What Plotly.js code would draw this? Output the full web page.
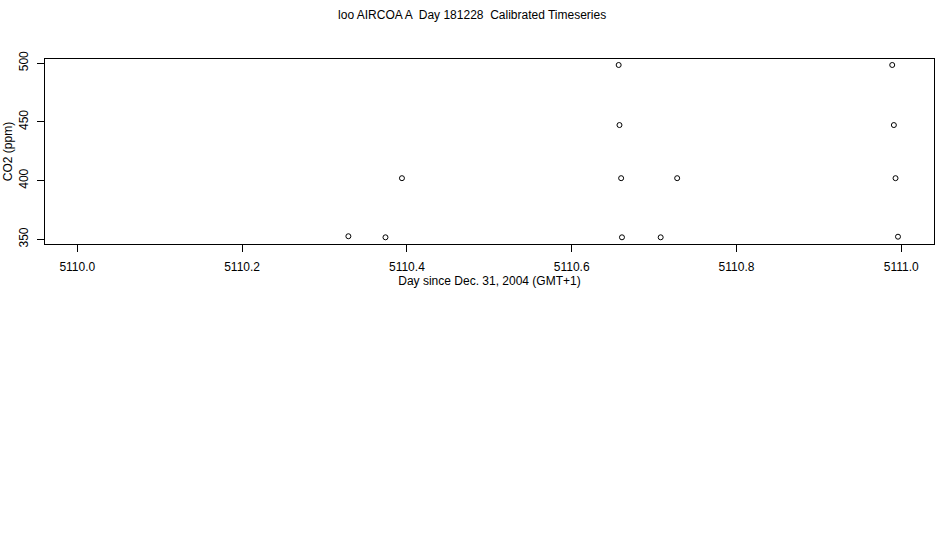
<!DOCTYPE html>
<html>
<head>
<meta charset="utf-8">
<script src="https://cdn.plot.ly/plotly-3.0.1.min.js"></script>
<style>html,body{margin:0;padding:0;background:#fff;}#chart{width:950px;height:550px;}</style>
</head>
<body>
<div id="chart"></div>
<script>
// Data
var dayValues = [5110.329, 5110.374, 5110.394, 5110.657, 5110.658, 5110.660, 5110.661, 5110.708, 5110.728, 5110.989, 5110.991, 5110.993, 5110.996];
var co2Values = [352.6, 351.7, 402.0, 498.3, 447.2, 402.0, 351.7, 351.7, 402.0, 498.3, 447.2, 402.0, 352.2];
var xTickVals = [5110.0, 5110.2, 5110.4, 5110.6, 5110.8, 5111.0];
var xTickText = ["5110.0", "5110.2", "5110.4", "5110.6", "5110.8", "5111.0"];
var yTickVals = [350, 400, 450, 500];
var yTickText = ["350", "400", "450", "500"];
var titleText = "loo AIRCOA A \u00a0Day 181228 \u00a0Calibrated Timeseries";

var font = {family: "Liberation Sans, Arial, sans-serif", size: 12, color: "#000"};

var trace = {
  x: dayValues,
  y: co2Values,
  type: "scatter",
  mode: "markers",
  marker: {symbol: "circle-open", size: 5, color: "#000", line: {width: 1, color: "#000"}},
  hoverinfo: "x+y"
};

var layout = {
  width: 950, height: 550,
  paper_bgcolor: "#fff", plot_bgcolor: "#fff",
  margin: {l: 45, r: 16, t: 59, b: 306},
  font: font,
  showlegend: false,
  title: {text: titleText, font: {family: font.family, size: 12, color: "#000"}, x: 0.497, xref: "container", y: 0.974, yref: "container", yanchor: "middle"},
  xaxis: {
    range: [5109.9608, 5111.0397],
    tickvals: xTickVals, ticktext: xTickText,
    ticks: "outside", ticklen: 7, tickwidth: 1, tickcolor: "#000",
    showline: true, mirror: true, linecolor: "#000", linewidth: 1,
    showgrid: false, zeroline: false,
    tickfont: {family: font.family, size: 12, color: "#000"},
    ticklabelstandoff: 5,
    title: {text: "Day since Dec. 31, 2004 (GMT+1)", font: {family: font.family, size: 12, color: "#000"}, standoff: 2}
  },
  yaxis: {
    range: [346.0, 503.4],
    tickvals: yTickVals, ticktext: yTickText,
    ticks: "outside", ticklen: 7, tickwidth: 1, tickcolor: "#000",
    tickangle: -90,
    showline: true, mirror: true, linecolor: "#000", linewidth: 1,
    showgrid: false, zeroline: false,
    tickfont: {family: font.family, size: 12, color: "#000"},
    ticklabelstandoff: 4,
    title: {text: "CO2 (ppm)", font: {family: font.family, size: 12, color: "#000"}, standoff: 2}
  }
};

Plotly.newPlot("chart", [trace], layout, {staticPlot: true, displayModeBar: false});
</script>
</body>
</html>
